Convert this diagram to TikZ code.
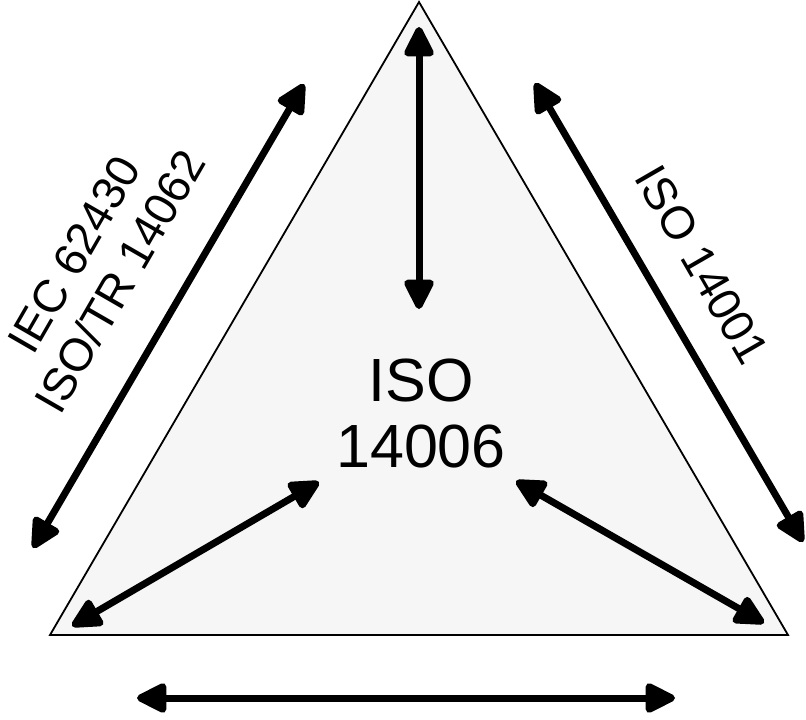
\documentclass[tikz,border=0pt]{standalone}
\usepackage{fontspec}
\setmainfont{Liberation Sans}
\usetikzlibrary{arrows.meta}
\begin{document}
\begin{tikzpicture}[x=1pt,y=-1pt,
  dblarrow/.style={line width=7pt,{Triangle[length=34pt,width=32pt,round]}-{Triangle[length=34pt,width=32pt,round]}},
  lbl/.style={align=center,inner sep=0pt,font=\fontsize{46}{53}\selectfont}]
\useasboundingbox (0,0) rectangle (806,720);
\coordinate (T) at (419,2);
\coordinate (BL) at (50,635);
\coordinate (BR) at (788,635);
\filldraw[fill=gray!7,draw=black,line width=1.8pt,line join=miter] (T) -- (BL) -- (BR) -- cycle;
% coordinates of arrow ends
\coordinate (v1) at (419,27);
\coordinate (v2) at (419,309);
\coordinate (l1) at (304,84);
\coordinate (l2) at (33,548);
\coordinate (r1) at (535,83);
\coordinate (r2) at (803,542);
\coordinate (bl1) at (72,626);
\coordinate (bl2) at (319,482);
\coordinate (br1) at (764,623);
\coordinate (br2) at (516,481);
\coordinate (b1) at (137,698);
\coordinate (b2) at (675,698);
\draw[dblarrow] (v1) -- (v2);
\draw[dblarrow] (l1) -- (l2);
\draw[dblarrow] (r1) -- (r2);
\draw[dblarrow] (bl1) -- (bl2);
\draw[dblarrow] (br1) -- (br2);
\draw[dblarrow] (b1) -- (b2);
\node[align=center,inner sep=0pt,font=\fontsize{61}{66}\selectfont] (c) at (421,413) {ISO\\14006};
\node[lbl,rotate=60] (lt) at (97,268) {IEC 62430\\ISO/TR 14062};
\node[lbl,rotate=-60] (rt) at (702,265) {ISO 14001};
\end{tikzpicture}
\end{document}
